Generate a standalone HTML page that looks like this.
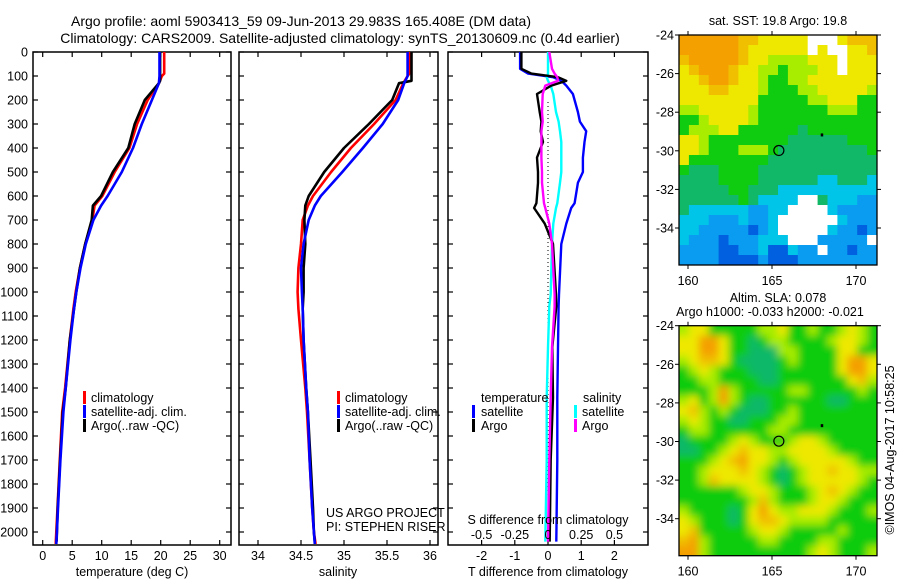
<!DOCTYPE html>
<html><head><meta charset="utf-8">
<style>
html,body{margin:0;padding:0;background:#fff;}
svg{display:block;font-family:"Liberation Sans",sans-serif;}
text{fill:#000;font-size:12.5px;}
</style></head>
<body>
<svg id="fig" width="900" height="580" viewBox="0 0 900 580" xmlns="http://www.w3.org/2000/svg">
<text x="301" y="26" text-anchor="middle" style="font-size:14px">Argo profile: aoml 5903413_59 09-Jun-2013 29.983S 165.408E (DM data)</text>
<text x="340" y="43" text-anchor="middle" style="font-size:14px">Climatology: CARS2009. Satellite-adjusted climatology: synTS_20130609.nc (0.4d earlier)</text>
<g id="p1"></g>
<g id="p2"></g>
<g id="p3"></g>
<g id="m1"></g>
<g id="m2"></g>
<text x="778" y="25" text-anchor="middle">sat. SST: 19.8 Argo: 19.8</text>
<text x="778" y="302" text-anchor="middle">Altim. SLA: 0.078</text>
<text x="770" y="316" text-anchor="middle">Argo h1000: -0.033 h2000: -0.021</text>
<text transform="translate(894,450) rotate(-90)" text-anchor="middle">©IMOS 04-Aug-2017 10:58:25</text>
</svg>
<script>
// ---- data ----
const depthTicks = [0,100,200,300,400,500,600,700,800,900,1000,1100,1200,1300,1400,1500,1600,1700,1800,1900,2000];
const tempTicks = [0,5,10,15,20,25,30];
const salTicks = [34,34.5,35,35.5,36];
const tdiffTicks = [-2,-1,0,1,2];
const sdiffTicks = [-0.5,-0.25,0,0.25,0.5];
const sdiffLabels = ["-0.5","-0.25","0","0.25","0.5"];

const climDepth = [0,90,100,130,200,300,400,500,600,640,700,800,900,1000,1070,1200,1400,1500,1700,1900,2000,2050];
const climTemp  = [20.6,20.6,20.2,19.7,17.8,16.0,14.7,12.2,10.1,8.8,8.4,7.2,6.3,5.6,5.2,4.6,3.8,3.3,2.9,2.5,2.3,2.2];
const climSal   = [35.76,35.76,35.74,35.69,35.60,35.35,35.08,34.85,34.64,34.58,34.52,34.50,34.47,34.46,34.47,34.50,34.55,34.57,34.60,34.63,34.65,34.67];

const satDepth = [0,100,130,200,300,400,500,600,640,700,800,900,1000,1070,1200,1400,1500,1700,1900,2000,2050];
const satTemp  = [19.8,19.8,19.7,18.5,16.8,15.3,13.4,11.0,9.9,8.6,7.3,6.4,5.7,5.3,4.7,3.9,3.5,3.0,2.6,2.4,2.3];
const satSal   = [35.74,35.74,35.70,35.63,35.45,35.22,34.98,34.73,34.66,34.59,34.53,34.50,34.51,34.52,34.53,34.56,34.58,34.60,34.63,34.65,34.66];

const argoDepth = [0,120,130,200,300,400,500,600,640,700,800,900,1000,1070,1200,1400,1500,1700,1900,2000,2040];
const argoTemp  = [19.9,19.9,19.7,17.3,15.6,14.5,11.9,9.9,8.5,8.3,7.2,6.3,5.7,5.3,4.6,3.9,3.4,2.95,2.55,2.4,2.35];
const argoSal   = [35.785,35.785,35.64,35.56,35.29,35.0,34.77,34.59,34.55,34.54,34.55,34.53,34.53,34.52,34.53,34.56,34.58,34.61,34.64,34.65,34.66];

const dDepth = [0,70,90,105,120,140,175,250,290,330,375,440,500,545,630,650,715,800,1010,1060,1230,1440,1700,2040];
const tdiffSat  = [-0.84,-0.84,-0.6,0.15,0.4,0.55,0.75,0.9,0.96,1.15,1.1,1.05,1.05,0.9,0.8,0.7,0.55,0.4,0.33,0.32,0.3,0.28,0.28,0.25];
const tdiffArgo = [-0.8,-0.8,-0.5,0.3,0.55,0.1,-0.33,-0.25,-0.2,-0.22,-0.15,-0.33,-0.3,-0.3,-0.35,-0.42,-0.1,0.15,0.24,0.25,0.13,0.15,0.08,0.05];
const sdiffSat  = [0.0,0.0,0.0,-0.01,0.0,0.02,0.04,0.06,0.08,0.09,0.1,0.1,0.1,0.09,0.07,0.06,0.04,0.03,0.02,0.01,0.0,-0.01,-0.01,-0.02];
const sdiffArgo = [0.01,0.03,0.05,0.07,0.075,-0.02,-0.04,-0.045,-0.04,-0.05,-0.05,-0.05,-0.045,-0.045,-0.03,-0.02,0.01,0.03,0.05,0.05,0.03,0.02,0.01,0.0];

// ---- helpers ----
const NS="http://www.w3.org/2000/svg";
function mk(tag,attrs,parent){const e=document.createElementNS(NS,tag);for(const k in attrs)e.setAttribute(k,attrs[k]);parent.appendChild(e);return e;}
const yD = d => 52 + 0.24*d;
const PT=52, PB=545;
const xT = t => 42.7 + 5.9*t;
const xS = s => 258 + 86*(s-34);
const xTd = v => 548 + 33.2*v;
const xSd = v => 548 + 132.8*v;

function frame(g,x0,x1,name){
  const r=mk('rect',{x:x0,y:PT,width:x1-x0,height:PB-PT,fill:'none',stroke:'#000','stroke-width':1.5},g);
  
  
  depthTicks.forEach(d=>{
    mk('line',{x1:x0,x2:x0+5,y1:yD(d),y2:yD(d),stroke:'#000','stroke-width':1.2},g);
    mk('line',{x1:x1-5,x2:x1,y1:yD(d),y2:yD(d),stroke:'#000','stroke-width':1.2},g);
  });
}
function xticks(g,vals,fx,labels,ly){
  vals.forEach((v,i)=>{
    const x=fx(v);
    mk('line',{x1:x,x2:x,y1:PT,y2:PT+5,stroke:'#000','stroke-width':1.2},g);
    mk('line',{x1:x,x2:x,y1:PB-5,y2:PB,stroke:'#000','stroke-width':1.2},g);
    if(labels){const t=mk('text',{x:x,y:ly,'text-anchor':'middle'},g);t.textContent=labels[i];
      
      }
  });
}
function line(g,xs,ds,fx,color,name,w){
  const pts=xs.map((v,i)=>fx(v).toFixed(1)+','+yD(ds[i]).toFixed(1)).join(' ');
  const p=mk('polyline',{points:pts,fill:'none',stroke:color,'stroke-width':w||2.6,'stroke-linejoin':'round'},g);
  
  
}
function txt(g,x,y,s,anchor,name){const t=mk('text',{x:x,y:y,'text-anchor':anchor||'start'},g);t.textContent=s;
  
  return t;}
function legBar(g,x,y,color,name){const r=mk('rect',{x:x,y:y-7,width:3,height:13,fill:color},g);
  
  }

// ---- panel 1 ----
const p1=document.getElementById('p1');
frame(p1,33,231,'temperature-panel');
depthTicks.forEach(d=>{const t=txt(p1,28,yD(d)+4.5,String(d),'end','y-tick-label');});
xticks(p1,tempTicks,xT,tempTicks.map(String),560);
line(p1,climTemp,climDepth,xT,'#ff0000','temp-climatology-line');
line(p1,argoTemp,argoDepth,xT,'#000000','temp-argo-line');
line(p1,satTemp,satDepth,xT,'#0000ff','temp-satellite-line');
txt(p1,132,576,'temperature (deg C)','middle','x-axis-title-temperature');
legBar(p1,83,398,'#ff0000','legend-swatch-climatology');txt(p1,91,402,'climatology','start','legend-climatology');
legBar(p1,83,412,'#0000ff','legend-swatch-satellite');txt(p1,91,416,'satellite-adj. clim.','start','legend-satellite');
legBar(p1,83,426,'#000000','legend-swatch-argo');txt(p1,91,430,'Argo(..raw -QC)','start','legend-argo');

// ---- panel 2 ----
const p2=document.getElementById('p2');
frame(p2,239,438,'salinity-panel');
xticks(p2,salTicks,xS,salTicks.map(String),560);
line(p2,climSal,climDepth,xS,'#ff0000','sal-climatology-line');
line(p2,argoSal,argoDepth,xS,'#000000','sal-argo-line');
line(p2,satSal,satDepth,xS,'#0000ff','sal-satellite-line');
txt(p2,338,576,'salinity','middle','x-axis-title-salinity');
legBar(p2,337,398,'#ff0000','legend-swatch-climatology');txt(p2,345,402,'climatology','start','legend-climatology');
legBar(p2,337,412,'#0000ff','legend-swatch-satellite');txt(p2,345,416,'satellite-adj. clim.','start','legend-satellite');
legBar(p2,337,426,'#000000','legend-swatch-argo');txt(p2,345,430,'Argo(..raw -QC)','start','legend-argo');
txt(p2,326,517,'US ARGO PROJECT','start','project-credit');
txt(p2,326,531,'PI: STEPHEN RISER','start','pi-credit');

// ---- panel 3 ----
const p3=document.getElementById('p3');
frame(p3,448,648,'difference-panel');
xticks(p3,tdiffTicks,xTd,tdiffTicks.map(String),560);
mk('line',{x1:548,x2:548,y1:PT+50,y2:PB,stroke:'#000','stroke-width':1,'stroke-dasharray':'1,3'},p3);
line(p3,tdiffSat,dDepth,xTd,'#0000ff','tdiff-satellite-line',2.4);
line(p3,sdiffSat,dDepth,xSd,'#00ffff','sdiff-satellite-line',2.4);
line(p3,tdiffArgo,dDepth,xTd,'#000000','tdiff-argo-line',2.4);
line(p3,sdiffArgo,dDepth,xSd,'#ff00ff','sdiff-argo-line',2.4);
sdiffTicks.forEach((v,i)=>{txt(p3,xSd(v),539,sdiffLabels[i],'middle','s-diff-tick-label');});
txt(p3,548,524,'S difference from climatology','middle','s-diff-axis-title');
txt(p3,548,576,'T difference from climatology','middle','t-diff-axis-title');
txt(p3,481,402,'temperature','start','legend-temperature-header');
txt(p3,583,402,'salinity','start','legend-salinity-header');
legBar(p3,472,412,'#0000ff','legend-swatch-t-satellite');txt(p3,481,416,'satellite','start','legend-t-satellite');
legBar(p3,472,426,'#000000','legend-swatch-t-argo');txt(p3,481,430,'Argo','start','legend-t-argo');
legBar(p3,574,412,'#00ffff','legend-swatch-s-satellite');txt(p3,582,416,'satellite','start','legend-s-satellite');
legBar(p3,574,426,'#ff00ff','legend-swatch-s-argo');txt(p3,582,430,'Argo','start','legend-s-argo');

// ---- maps ----
const latTicks=[-24,-26,-28,-30,-32,-34];
const lonTicks=[160,165,170];
const argoLon=165.408, argoLat=-29.983;
const pal={O:'#f4a000',Y:'#eee800',L:'#a8ec00',G:'#10cc10',T:'#10b868',C:'#00c4e8',B:'#0a9cf0',D:'#0060e0',W:'#ffffff',Q:'#f0c000'};
const sstGrid=[
"OOOOOOQQYYYYYWWWYQQQ",
"OOOOOOQYYYYYYWYWWYYQ",
"QOOOOOQYYLLLLYYYWYYY",
"YQOOOQYYLLGLLLYYWYYY",
"YYQOOQYYLGGLLYYYYYYY",
"YYYQQYYYLGGGLLYYYYYL",
"YYYYYYYYGGGGGLLYYYGG",
"LLYYYYYLGGGGGGGLLLGG",
"GGLYYYYLGGGGGGGGGGGG",
"GLLLYYGGGGGGTGGGGGGG",
"YYLGGGGGGGGTTTTTTGGG",
"YYLGGGLLLGTTTTTTTTTG",
"YGGGGGGGGTTTTTTTTTTT",
"GTTTGGGGTTTTTTTTTTTT",
"TTTTGGGGTTTTTTCCTTTC",
"TTTTTGGTTTCCCCCCCCCC",
"TTTTTTGTCCCCWWTCCCBB",
"TCCCCCCBBCCWWWWCBBBB",
"CCCBBBCBBCWWWWWWCBBB",
"CCBBBBBDBCWWWWWCBBDB",
"CBBBDBBBCCCWWWBBBBBW",
"BBBBDDBBCDDCBBWBBDBB",
"BBBBDDDDBDDDBBBBBBBB"];
const slaGrid=[
"LYYGGGGGLLYGGLGGLYLG",
"YYOOYGGTGLLGGGGLYYLG",
"YYOOYGGTTTLLGGGGYYGG",
"LYQQYGTTTTGLGGGGYOOY",
"GLYLGGGTTTGGGGGGYOOY",
"GGLLGGGGTTGGGGGGGYQL",
"GGGLOLGGGGGLLGGGGGLG",
"LYGLOLGTTGGGGGGTTGGG",
"YQLGLGTTTGGLGGGGGGGG",
"LYLGGTTGGGLLGGGGGGGG",
"GLLGGGGGGLLGGGGGGGGG",
"TGGGGLYLGGGLYYLGGGGG",
"TTGGLYQYYLLYYYYLGGGG",
"GGGLYQOYYLGLYYYYYLGG",
"GGLYYYQYLGTGLYYQYYLL",
"GGLQYYYYLGTGLYYYYYLG",
"GGGGGGLYYLGGGLYQYLGG",
"GGGGGGGLQLGGGLYYLGGG",
"LGGGGTGYOYLLYYYLGGGL",
"YLGGGTGYQQYLLLLGGGGG",
"YQGGGGGLYYLGGGGGLGGG",
"QOLGGGGGLLGGGGLLGGGG",
"OOLGGGGGGGGGGLYLGGGL"];
function map(gid,top,grid,blur,name){
  const g=document.getElementById(gid);
  const L=679,R=877,B=top+230;
  const xL=lon=>688+16.8*(lon-160);
  const yL=lat=>top+19.3*(-24-lat);
  const cw=(R-L)/20, ch=(B-top)/23;
  const defs=mk('defs',{},g);
  const cp=mk('clipPath',{id:'cp'+gid},defs);
  mk('rect',{x:L,y:top,width:R-L,height:B-top},cp);
  if(blur){const f=mk('filter',{id:'bl'+gid,x:'-10%',y:'-10%',width:'120%',height:'120%'},defs);
    mk('feGaussianBlur',{stdDeviation:blur},f);}
  const cg=mk('g',{'clip-path':'url(#cp'+gid+')'},g);
  const ig=mk('g',blur?{filter:'url(#bl'+gid+')'}:{},cg);
  
  
  grid.forEach((row,r)=>{for(let c=0;c<row.length;c++){
    const pad=blur?cw:0;
    const x=L+c*cw-(c==0?pad:0), y=top+r*ch-(r==0?pad:0);
    const w=cw+0.6+(c==0||c==19?pad:0), h=ch+0.6+(r==0||r==22?pad:0);
    mk('rect',{x:x.toFixed(1),y:y.toFixed(1),width:w.toFixed(1),height:h.toFixed(1),fill:pal[row[c]]},ig);
  }});
  mk('rect',{x:L,y:top,width:R-L,height:B-top,fill:'none',stroke:'#000','stroke-width':1.3},g);
  latTicks.forEach(v=>{const y=yL(v);
    mk('line',{x1:L-4,x2:L,y1:y,y2:y,stroke:'#000'},g);
    mk('line',{x1:R,x2:R+4,y1:y,y2:y,stroke:'#000'},g);
    txt(g,L-5,y+4.5,String(v),'end','lat-tick-label');});
  lonTicks.forEach(v=>{const x=xL(v);
    mk('line',{x1:x,x2:x,y1:top-4,y2:top,stroke:'#000'},g);
    mk('line',{x1:x,x2:x,y1:B,y2:B+4,stroke:'#000'},g);
    txt(g,x,B+20,String(v),'middle','lon-tick-label');});
  const c=mk('circle',{cx:xL(argoLon),cy:yL(argoLat),r:5,fill:'none',stroke:'#000','stroke-width':1.2},g);
  
  
  mk('rect',{x:xL(167.9),y:yL(-29.1),width:2.5,height:3,fill:'#000'},g);
}
map('m1',35,sstGrid,0,'sst-map');
map('m2',325.7,slaGrid,4,'sla-map');
</script>
</body></html>
